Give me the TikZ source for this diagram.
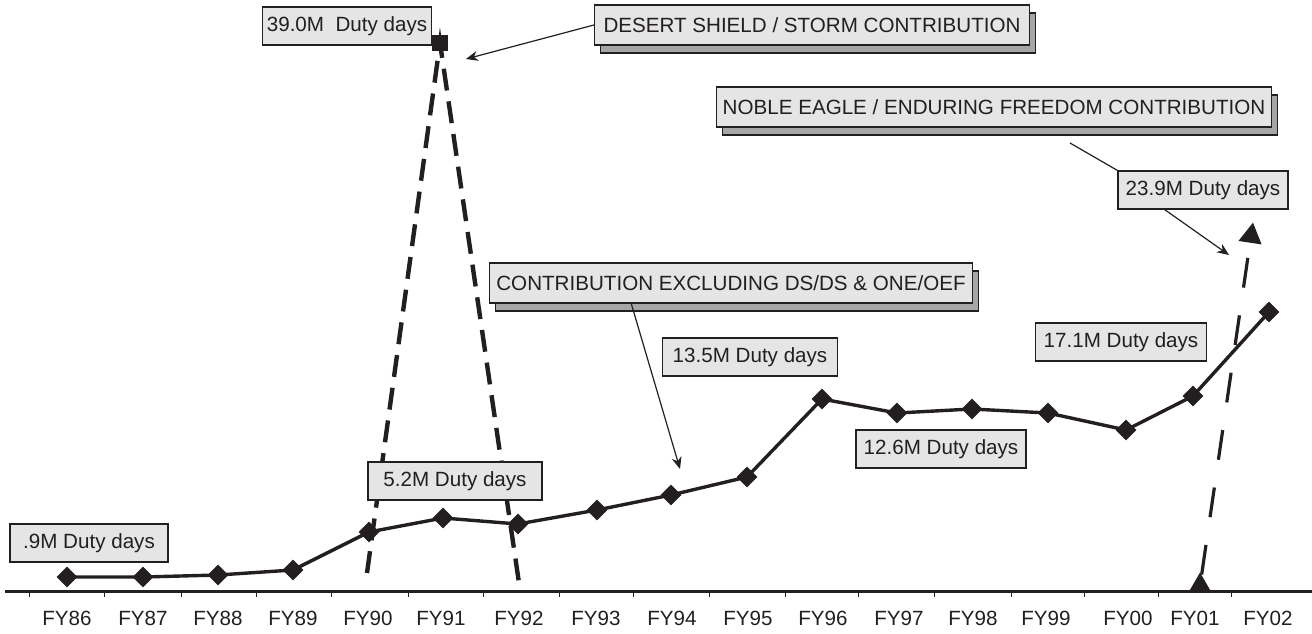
\documentclass[tikz,border=0pt]{standalone}
\usepackage{fontspec}
\setmainfont{Liberation Sans}
\usetikzlibrary{shapes.geometric,shadows,arrows.meta,calc}
\pgfdeclarelayer{bg}
\pgfsetlayers{bg,main}
\definecolor{ink}{HTML}{231F20}
\begin{document}
\begin{tikzpicture}[x=0.5pt,y=-0.5pt,
  txt/.style={font=\fontsize{10.3}{12}\selectfont, text=ink},
  lbl/.style={txt, draw=ink, line width=0.6pt, fill=black!10, minimum height=19pt, inner xsep=2pt, inner ysep=0pt},
  shlbl/.style={lbl, minimum height=20pt, copy shadow={shadow xshift=3pt, shadow yshift=-4pt, fill=black!35, draw=ink, line width=0.6pt}},
  dm/.style={diamond, aspect=1, fill=ink, draw=none, inner sep=0pt, minimum size=10.5pt},
  tri/.style={regular polygon, regular polygon sides=3, fill=ink, draw=none, inner sep=0pt, minimum size=13.5pt},
  dataline/.style={draw=ink, line width=1.7pt, line join=round},
  axisline/.style={draw=ink, line width=1.5pt},
  tick/.style={draw=ink, line width=0.5pt},
  dsdash/.style={draw=ink, line width=2.2pt, dash pattern=on 11pt off 5.5pt},
  nedash/.style={draw=ink, line width=1.6pt, dash pattern=on 15pt off 14pt},
  arr/.style={draw=ink, line width=0.6pt, -{Stealth[length=6pt,width=5pt]}},
  thinline/.style={draw=ink, line width=0.6pt}
]
\useasboundingbox (0,0) rectangle (1312,633);

% axis
\coordinate (axL) at (5,591);
\coordinate (axR) at (1312,591);
\draw[axisline] (axL) -- (axR);
\foreach \t in {29,104,181,256,331,408,483,559,633,709,785,858,934,1011,1084,1158,1231}
  \draw[tick] (\t,591) -- (\t,597);

% year labels
\foreach \x/\lab in {67/FY86,143/FY87,218/FY88,293/FY89,368/FY90,441/FY91,519/FY92,596/FY93,672/FY94,748/FY95,823/FY96,899/FY97,973/FY98,1046/FY99,1128/FY00,1195/FY01,1268/FY02}
  \node[txt] (y\lab) at (\x,618) {\lab};

% data markers
\node[dm] (p86) at (67,577) {};
\node[dm] (p87) at (143,577) {};
\node[dm] (p88) at (218,575) {};
\node[dm] (p89) at (293,570) {};
\node[dm] (p90) at (369,532) {};
\node[dm] (p91) at (443,518) {};
\node[dm] (p92) at (518,524) {};
\node[dm] (p93) at (597,510) {};
\node[dm] (p94) at (671,495) {};
\node[dm] (p95) at (747,477) {};
\node[dm] (p96) at (822,399) {};
\node[dm] (p97) at (897,413) {};
\node[dm] (p98) at (972,409) {};
\node[dm] (p99) at (1048,413) {};
\node[dm] (p00) at (1126,430) {};
\node[dm] (p01) at (1193,396) {};
\node[dm] (p02) at (1269,312) {};

% Desert Shield / Storm peak
\coordinate (dsl) at (367,573);
\coordinate (dsr) at (519,583);
\node[rectangle, fill=ink, inner sep=0pt, minimum size=8pt] (sq) at (440,43) {};

% Noble Eagle / Enduring Freedom markers
\node[tri] (tb) at (1200,586) {};
\node[tri, rotate=-8.4] (tt) at (1251,236) {};

\begin{pgfonlayer}{bg}
  \draw[dataline] (p86.center) -- (p87.center) -- (p88.center) -- (p89.center) -- (p90.center)
    -- (p91.center) -- (p92.center) -- (p93.center) -- (p94.center) -- (p95.center)
    -- (p96.center) -- (p97.center) -- (p98.center) -- (p99.center) -- (p00.center)
    -- (p01.center) -- (p02.center);
  \draw[dsdash] (dsl) -- (sq.center) -- (dsr);
  \draw[nedash] (tb) -- (tt);
\end{pgfonlayer}

% labels
\node[lbl, minimum width=79pt] (l09) at (89,543) {.9M Duty days};
\node[lbl, minimum width=82.5pt] (l390) at (347,26) {39.0M\ \ Duty days};
\node[lbl, minimum width=87pt] (l52) at (455,481) {5.2M Duty days};
\node[lbl, minimum width=87.5pt] (l135) at (750,357) {13.5M Duty days};
\node[lbl, minimum width=85pt] (l126) at (941,449) {12.6M Duty days};
\node[lbl, minimum width=85.5pt] (l171) at (1121,342) {17.1M Duty days};
\node[lbl, minimum width=85pt] (l239) at (1203,190) {23.9M Duty days};

\node[shlbl, minimum width=217.5pt] (ds) at (812,25) {DESERT SHIELD / STORM CONTRIBUTION};
\node[shlbl, minimum width=277.5pt] (ne) at (994,107) {NOBLE EAGLE / ENDURING FREEDOM CONTRIBUTION};
\node[shlbl, minimum width=241.5pt] (cex) at (731,283) {CONTRIBUTION EXCLUDING DS/DS \& ONE/OEF};

% callout connectors
\coordinate (a1) at (466,59);
\coordinate (a2) at (680,469);
\coordinate (ne1) at (1070,143);
\coordinate (a3) at (1229,255);
\draw[arr] (ds.west) -- (a1);
\draw[arr] ($(cex.south west)!0.294!(cex.south east)$) -- (a2);
\draw[thinline] (ne1) -- (l239.north west);
\draw[arr] ($(l239.south west)!0.276!(l239.south east)$) -- (a3);
\end{tikzpicture}
\end{document}
